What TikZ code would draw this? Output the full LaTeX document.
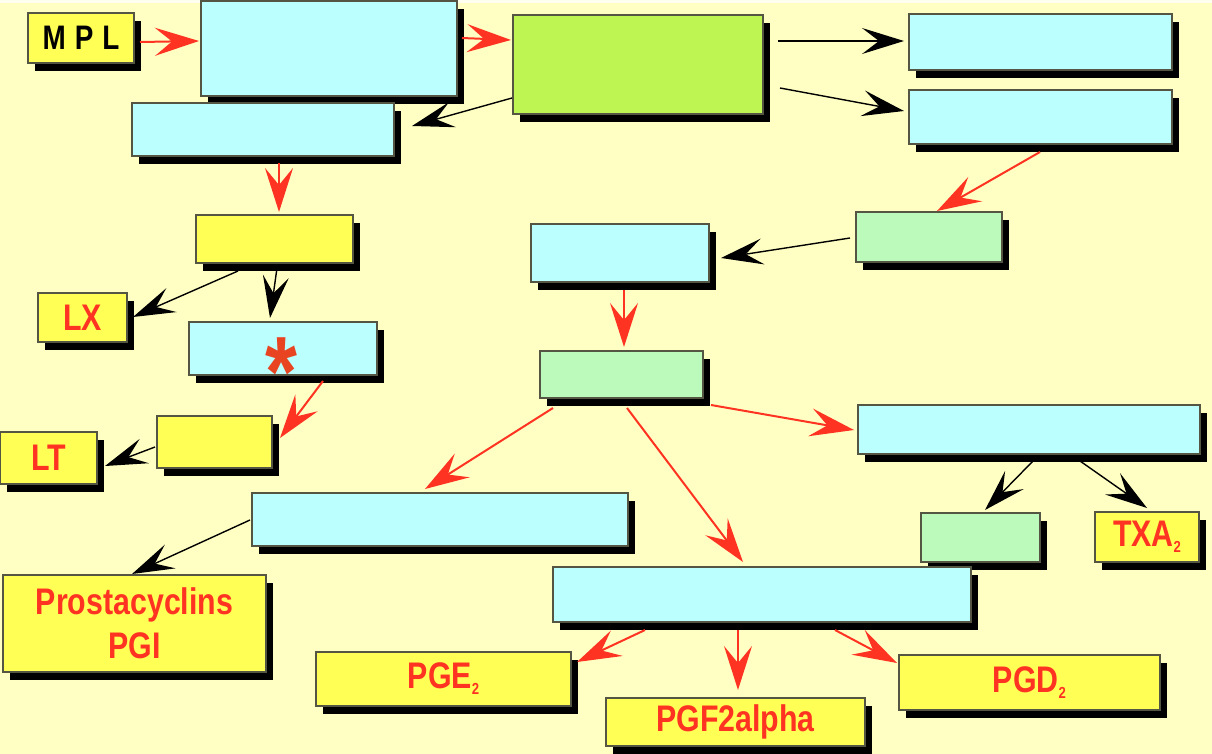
\documentclass[tikz,border=0pt]{standalone}
\usepackage{fontspec}
\newfontfamily\lab[FakeStretch=0.82]{Liberation Sans}
\usetikzlibrary{arrows.meta,shadows}
\definecolor{bg}{HTML}{FFFFC4}
\definecolor{topstrip}{HTML}{FFFFF0}
\definecolor{cyanbox}{HTML}{BBFFFF}
\definecolor{limebox}{HTML}{BEF552}
\definecolor{mintbox}{HTML}{BBFABB}
\definecolor{yelbox}{HTML}{FFFF55}
\definecolor{boxline}{HTML}{555544}
\definecolor{labred}{HTML}{FF3322}
\definecolor{arrred}{HTML}{FF3322}
\definecolor{stared}{HTML}{E84422}
\tikzset{
  box/.style={draw=boxline, line width=1.2pt, inner sep=0pt, outer sep=0pt, anchor=north west,
    drop shadow={shadow xshift=7pt, shadow yshift=-8pt, fill=black, opacity=1}},
  cy/.style={box, fill=cyanbox},
  lm/.style={box, fill=limebox},
  mt/.style={box, fill=mintbox},
  yl/.style={box, fill=yelbox, text=labred, font=\lab\bfseries\fontsize{37}{40}\selectfont, align=center},
  ra/.style={draw=arrred, line width=2pt, -{Stealth[length=44pt,width=28pt,inset=17pt]}},
  ba/.style={draw=black, line width=1.4pt, -{Stealth[length=42pt,width=26pt,inset=17pt]}},
}
\newcommand{\subtwo}{\raisebox{-6pt}{\fontsize{16}{16}\selectfont 2}}
\begin{document}
\begin{tikzpicture}[x=1pt,y=-1pt]
\useasboundingbox (0,0) rectangle (1212,754);
\fill[bg] (0,0) rectangle (1212,754);
\fill[topstrip] (0,0) rectangle (1212,3);
\begin{scope}
\clip (0,0) rectangle (1212,754);
% boxes
\node[yl, text=black, minimum width=106pt, minimum height=50pt, font=\lab\bfseries\fontsize{34}{36}\selectfont] (MPL) at (28,13) {M\hspace{9pt}P\hspace{9pt}L};
\node[cy, minimum width=256pt, minimum height=95pt] (A) at (201,1) {};
\node[cy, minimum width=262pt, minimum height=53pt] (B) at (132,103) {};
\node[lm, minimum width=250pt, minimum height=99pt] (C) at (513,15) {};
\node[cy, minimum width=263pt, minimum height=56pt] (D) at (909,14) {};
\node[cy, minimum width=263pt, minimum height=54pt] (E) at (909,90) {};
\node[mt, minimum width=146pt, minimum height=50pt] (F) at (856,212) {};
\node[cy, minimum width=178pt, minimum height=58pt] (G) at (531,224) {};
\node[yl, minimum width=157pt, minimum height=48pt] (H) at (196,215) {};
\node[yl, minimum width=89pt, minimum height=49pt] (LX) at (38,293) {LX};
\node[cy, minimum width=188pt, minimum height=53pt] (I) at (189,322) {};
\node[yl, minimum width=115pt, minimum height=52pt] (J) at (157,416) {};
\node[yl, minimum width=97pt, minimum height=52pt] (LT) at (0,432) {LT};
\node[mt, minimum width=163pt, minimum height=47pt] (K) at (540,351) {};
\node[cy, minimum width=342pt, minimum height=49pt] (L) at (858,405) {};
\node[cy, minimum width=376pt, minimum height=53pt] (M) at (252,493) {};
\node[mt, minimum width=119pt, minimum height=49pt] (N) at (921,513) {};
\node[yl, minimum width=104pt, minimum height=50pt] (TXA) at (1095,512) {TXA\subtwo};
\node[cy, minimum width=418pt, minimum height=55pt] (O) at (553,567) {};
\node[yl, minimum width=263pt, minimum height=97pt, font=\lab\bfseries\fontsize{37}{44}\selectfont] (PGI) at (3,575) {Prostacyclins\\PGI};
\node[yl, minimum width=255pt, minimum height=54pt] (PGE) at (316,652) {PGE\subtwo};
\node[yl, minimum width=259pt, minimum height=48pt] (PGF) at (606,698) {PGF2alpha};
\node[yl, minimum width=261pt, minimum height=55pt] (PGD) at (899,655) {PGD\subtwo};
\node[text=stared, font=\lab\bfseries\fontsize{100}{100}\selectfont, inner sep=0pt] (star) at ([shift={(92,50)}]I.north west) {*};
% connectors
\draw[ra] ([shift={(112,29)}]MPL.north west) -- ([shift={(-2,40)}]A.north west);
\draw[ra] ([shift={(261,37)}]A.north west) -- ([shift={(-2,25)}]C.north west);
\draw[ba] ([shift={(-1,83)}]C.north west) -- ([shift={(280,23)}]B.north west);
\draw[ba] ([shift={(265,26)}]C.north west) -- ([shift={(-5,27)}]D.north west);
\draw[ba] ([shift={(267,73)}]C.north west) -- ([shift={(-5,21)}]E.north west);
\draw[ra] ([shift={(131,62)}]E.north west) -- ([shift={(81,-1)}]F.north west);
\draw[ba] ([shift={(-6,26)}]F.north west) -- ([shift={(190,34)}]G.north west);
\draw[ra] ([shift={(147,60)}]B.north west) -- ([shift={(83,-3)}]H.north west);
\draw[ba] ([shift={(42,56)}]H.north west) -- ([shift={(95,24)}]LX.north west);
\draw[ba] ([shift={(81,53)}]H.north west) -- ([shift={(81,-4)}]I.north west);
\draw[ra] ([shift={(134,59)}]I.north west) -- ([shift={(123,22)}]J.north west);
\draw[ba] ([shift={(-2,31)}]J.north west) -- ([shift={(105,34)}]LT.north west);
\draw[ra] ([shift={(93,66)}]G.north west) -- ([shift={(84,-4)}]K.north west);
\draw[ra] ([shift={(13,57)}]K.north west) -- ([shift={(173,-4)}]M.north west);
\draw[ra] ([shift={(87,57)}]K.north west) -- ([shift={(190,-5)}]O.north west);
\draw[ra] ([shift={(171,54)}]K.north west) -- ([shift={(-4,25)}]L.north west);
\draw[ba] ([shift={(175,56)}]L.north west) -- ([shift={(64,-3)}]N.north west);
\draw[ba] ([shift={(222,56)}]L.north west) -- ([shift={(52,-4)}]TXA.north west);
\draw[ba] ([shift={(-2,27)}]M.north west) -- ([shift={(129,-1)}]PGI.north west);
\draw[ra] ([shift={(92,63)}]O.north west) -- ([shift={(261,10)}]PGE.north west);
\draw[ra] ([shift={(185,63)}]O.north west) -- ([shift={(132,-8)}]PGF.north west);
\draw[ra] ([shift={(282,63)}]O.north west) -- ([shift={(-2,8)}]PGD.north west);
\end{scope}
\end{tikzpicture}
\end{document}
